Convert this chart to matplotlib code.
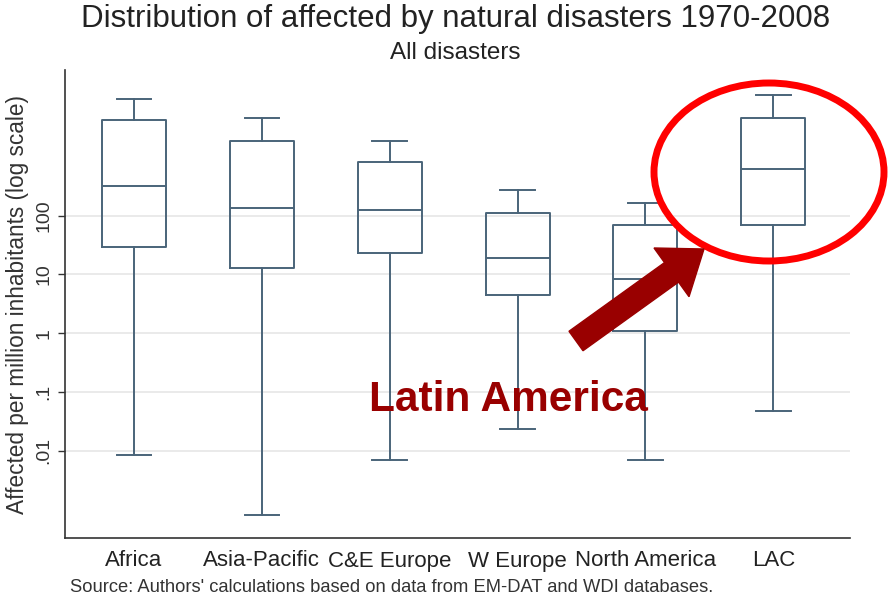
import numpy as np
import matplotlib.pyplot as plt
import matplotlib.patches as mpatches
from matplotlib.transforms import IdentityTransform
from matplotlib.ticker import FixedLocator, NullLocator

regions = ['Africa', 'Asia-Pacific', 'C&E Europe', 'W Europe', 'North America', 'LAC']
whisker_low = [0.0083, 0.0008, 0.0068, 0.023, 0.0068, 0.048]
q1 = [29, 12.6, 23, 4.4, 1.1, 70]
median = [320, 136, 126, 18.7, 8.3, 630]
q3 = [4300, 1860, 830, 112, 70, 4600]
whisker_high = [9500, 4600, 1860, 275, 166, 11200]

y_ticks = [0.01, 0.1, 1, 10, 100]
y_ticklabels = ['.01', '.1', '1', '10', '100']

box_color = '#4a6479'
fam = 'Liberation Sans'

fig = plt.figure(figsize=(8.89, 5.97), dpi=100)
ax = fig.add_axes([65 / 889, 59 / 597, 785 / 889, 468 / 597])

stats = []
for i, name in enumerate(regions):
    stats.append({'label': name, 'whislo': whisker_low[i], 'q1': q1[i], 'med': median[i],
                  'q3': q3[i], 'whishi': whisker_high[i], 'fliers': []})

lp = dict(color=box_color, linewidth=1.4)
ax.bxp(stats, positions=np.arange(1, len(regions) + 1), widths=0.5, capwidths=0.27,
       boxprops=lp, medianprops=lp, whiskerprops=lp, capprops=lp, showfliers=False)

ax.set_yscale('log')
ax.set_ylim(10 ** -3.49, 10 ** 4.48)
ax.set_xlim(0.46, 6.6)
ax.yaxis.set_major_locator(FixedLocator(y_ticks))
ax.yaxis.set_minor_locator(NullLocator())
ax.set_yticklabels(y_ticklabels, rotation=90, va='center', family=fam, fontsize=14, color='#333333')
ax.set_xticklabels(regions, family=fam, fontsize=16, color='#222222')
ax.tick_params(axis='x', length=0, pad=9)
ax.tick_params(axis='y', length=5, width=1, color='#333333', pad=4)
ax.grid(axis='y', color='#e6e6e6', linewidth=1.2)
ax.set_axisbelow(True)
for s in ['top', 'right']:
    ax.spines[s].set_visible(False)
for s in ['left', 'bottom']:
    ax.spines[s].set_color('#333333')
    ax.spines[s].set_linewidth(1.2)

ax.set_ylabel('Affected per million inhabitants (log scale)', family=fam, fontsize=16.3,
              color='#333333', labelpad=5)

fig.text(0.512, 1 - 19 / 597, 'Distribution of affected by natural disasters 1970-2008',
         ha='center', va='center', family=fam, fontsize=22.5, color='#222222')
fig.text(0.512, 1 - 53 / 597, 'All disasters', ha='center', va='center', family=fam,
         fontsize=17.5, color='#222222')
fig.text(70 / 889, 1 - 587 / 597, "Source: Authors' calculations based on data from EM-DAT and WDI databases.",
         ha='left', va='center', family=fam, fontsize=13.2, color='#333333')

# highlight: red ellipse, arrow and label (pixel coordinates)
ell = mpatches.Ellipse((769, 597 - 172), 230, 178, fill=False, edgecolor='#ff0000',
                       linewidth=5, transform=IdentityTransform())
fig.add_artist(ell)
arr = mpatches.FancyArrow(576, 597 - 341, 128, 92, width=24, head_width=60,
                          head_length=40, length_includes_head=True, color='#990000',
                          transform=IdentityTransform())
fig.add_artist(arr)
fig.text(508 / 889, 1 - 400 / 597, 'Latin America', ha='center', va='center',
         fontsize=30.5, fontweight='bold', color='#990000', family=fam)

fig.savefig('out.png', dpi=100)
